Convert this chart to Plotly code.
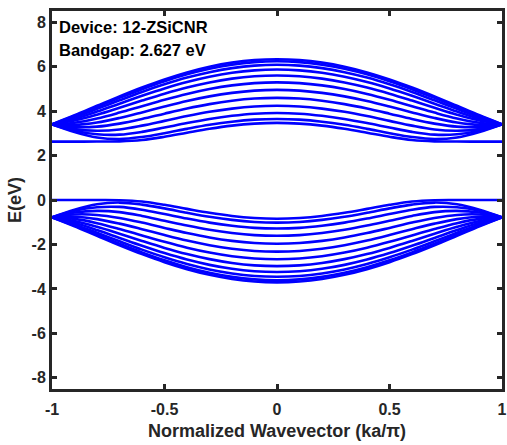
import plotly.graph_objects as go

# Normalized wavevector samples (ka/pi), half-zone; bands are symmetric in k
k_half = [0.0, 0.1, 0.2, 0.3, 0.4, 0.5, 0.6, 0.7, 0.8, 0.9, 1.0]

# Conduction bands (eV) read at k_half
conduction_bands = [
    [6.332, 6.294, 6.179, 5.992, 5.738, 5.424, 5.061, 4.660, 4.236, 3.809, 3.404],
    [6.237, 6.199, 6.085, 5.901, 5.650, 5.341, 4.984, 4.593, 4.183, 3.777, 3.404],
    [6.080, 6.043, 5.931, 5.750, 5.505, 5.203, 4.858, 4.483, 4.097, 3.725, 3.404],
    [5.866, 5.830, 5.721, 5.544, 5.306, 5.015, 4.686, 4.333, 3.979, 3.655, 3.404],
    [5.600, 5.565, 5.458, 5.287, 5.058, 4.781, 4.470, 4.147, 3.835, 3.571, 3.404],
    [5.291, 5.257, 5.154, 4.989, 4.770, 4.507, 4.220, 3.930, 3.668, 3.477, 3.404],
    [4.951, 4.919, 4.818, 4.660, 4.452, 4.204, 3.940, 3.690, 3.486, 3.377, 3.404],
    [4.593, 4.562, 4.464, 4.312, 4.114, 3.883, 3.643, 3.436, 3.299, 3.279, 3.404],
    [4.238, 4.207, 4.111, 3.965, 3.775, 3.559, 3.344, 3.172, 3.116, 3.189, 3.404],
    [3.912, 3.882, 3.787, 3.644, 3.461, 3.258, 3.063, 2.938, 2.955, 3.114, 3.404],
    [3.646, 3.615, 3.522, 3.380, 3.200, 3.004, 2.834, 2.743, 2.815, 3.062, 3.404],
    [3.467, 3.434, 3.345, 3.203, 3.027, 2.843, 2.696, 2.635, 2.628, 2.627, 2.627],
]

# Valence bands (eV) read at k_half
valence_bands = [
    [-3.705, -3.667, -3.552, -3.365, -3.111, -2.797, -2.434, -2.033, -1.609, -1.182, -0.777],
    [-3.610, -3.572, -3.458, -3.274, -3.023, -2.714, -2.357, -1.966, -1.556, -1.150, -0.777],
    [-3.453, -3.416, -3.304, -3.123, -2.878, -2.576, -2.231, -1.856, -1.470, -1.098, -0.777],
    [-3.239, -3.203, -3.094, -2.917, -2.679, -2.388, -2.059, -1.706, -1.352, -1.028, -0.777],
    [-2.973, -2.938, -2.831, -2.660, -2.431, -2.154, -1.843, -1.520, -1.208, -0.944, -0.777],
    [-2.664, -2.630, -2.527, -2.362, -2.143, -1.880, -1.593, -1.303, -1.041, -0.850, -0.777],
    [-2.324, -2.292, -2.191, -2.033, -1.825, -1.577, -1.313, -1.063, -0.859, -0.750, -0.777],
    [-1.966, -1.935, -1.837, -1.685, -1.487, -1.256, -1.016, -0.809, -0.672, -0.652, -0.777],
    [-1.611, -1.580, -1.484, -1.338, -1.148, -0.932, -0.717, -0.545, -0.489, -0.562, -0.777],
    [-1.285, -1.255, -1.160, -1.017, -0.834, -0.631, -0.436, -0.311, -0.328, -0.487, -0.777],
    [-1.019, -0.988, -0.895, -0.753, -0.573, -0.377, -0.207, -0.116, -0.188, -0.435, -0.777],
    [-0.840, -0.807, -0.718, -0.576, -0.400, -0.216, -0.069, -0.008, -0.001, 0.000, 0.000],
]

x_ticks = [-1, -0.5, 0, 0.5, 1]
x_tick_labels = ["-1", "-0.5", "0", "0.5", "1"]
y_ticks = [-8, -6, -4, -2, 0, 2, 4, 6, 8]
y_tick_labels = ["-8", "-6", "-4", "-2", "0", "2", "4", "6", "8"]

device_text = "Device: 12-ZSiCNR"
bandgap_text = "Bandgap: 2.627 eV"

k_full = [-v for v in reversed(k_half)] + k_half[1:]

fig = go.Figure()
for band in conduction_bands + valence_bands:
    fig.add_trace(go.Scatter(
        x=k_full,
        y=list(reversed(band)) + band[1:],
        mode="lines",
        line=dict(color="#0000FF", width=2.6, shape="spline", smoothing=1.0),
        showlegend=False,
        hoverinfo="skip",
    ))

axis_col = "#262626"
font_family = "Liberation Sans, Arial, sans-serif"

fig.update_layout(
    width=507,
    height=445,
    margin=dict(l=52, r=5, t=11, b=56),
    paper_bgcolor="white",
    plot_bgcolor="white",
    font=dict(family=font_family, color=axis_col),
    xaxis=dict(
        range=[-1, 1],
        tickvals=x_ticks,
        ticktext=x_tick_labels,
        ticks="inside",
        ticklen=5,
        tickwidth=3,
        tickcolor=axis_col,
        showline=True,
        linewidth=3,
        linecolor=axis_col,
        mirror="ticks",
        showgrid=False,
        zeroline=False,
        automargin=False,
        ticklabeloverflow="allow",
        ticklabelstandoff=4,
        tickfont=dict(size=16, weight="bold", color=axis_col),
        title=dict(text="Normalized Wavevector (ka/π)",
                   font=dict(size=18, weight="bold", color=axis_col), standoff=8),
    ),
    yaxis=dict(
        range=[-8.5, 8.5],
        tickvals=y_ticks,
        ticktext=y_tick_labels,
        ticks="inside",
        ticklen=5,
        tickwidth=3,
        tickcolor=axis_col,
        showline=True,
        linewidth=3,
        linecolor=axis_col,
        mirror="ticks",
        showgrid=False,
        zeroline=False,
        automargin=False,
        ticklabeloverflow="allow",
        tickfont=dict(size=16, weight="bold", color=axis_col),
        title=dict(text="E(eV)", font=dict(size=18, weight="bold", color=axis_col), standoff=6),
    ),
    annotations=[
        dict(text=device_text, x=0.012, y=0.988, xref="paper", yref="paper",
             xanchor="left", yanchor="top", showarrow=False,
             font=dict(size=16.5, weight="bold", color="black", family=font_family)),
        dict(text=bandgap_text, x=0.012, y=0.925, xref="paper", yref="paper",
             xanchor="left", yanchor="top", showarrow=False,
             font=dict(size=16.5, weight="bold", color="black", family=font_family)),
    ],
)

fig.write_html("out.html")
